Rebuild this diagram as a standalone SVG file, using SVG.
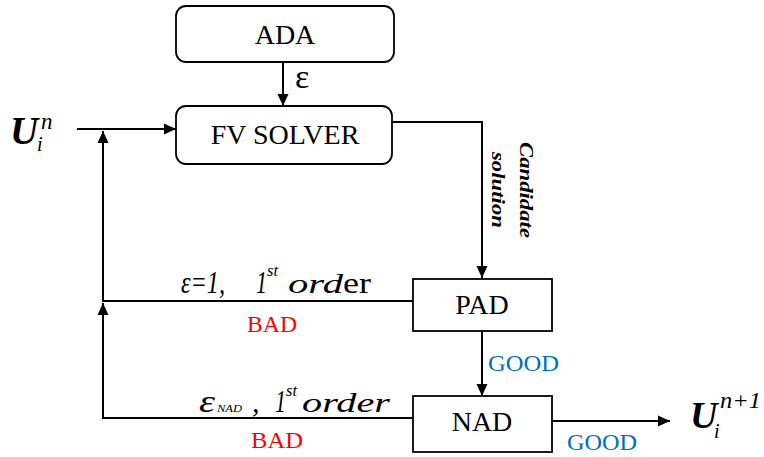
<svg xmlns="http://www.w3.org/2000/svg" width="764" height="457" viewBox="0 0 764 457">
<style>
.box{fill:#fff;stroke:#000;stroke-width:1.8}
.lbl{font-family:"Liberation Serif","Times New Roman",serif;font-size:28px;fill:#000;text-anchor:middle}
.it{font-family:"Liberation Serif","Times New Roman",serif;font-style:italic;fill:#000}
.rm{font-family:"Liberation Serif","Times New Roman",serif;fill:#000}
.bi{font-family:"Liberation Serif","Times New Roman",serif;font-style:italic;font-weight:bold;fill:#000}
.bad{font-family:"Liberation Serif","Times New Roman",serif;font-size:23px;fill:#ff0000}
.good{font-family:"Liberation Serif","Times New Roman",serif;font-size:23px;fill:#0070c0}
.conn{fill:none;stroke:#000;stroke-width:2;marker-end:url(#arr)}
</style>
<defs>
<marker id="arr" markerUnits="userSpaceOnUse" markerWidth="12" markerHeight="12" refX="12" refY="6" orient="auto">
<path d="M0,0.5 L12,6 L0,11.5 z" fill="#000"/>
</marker>
</defs>
<g id="connectors">
<path class="conn" d="M283,62 V106"/>
<path class="conn" d="M77,129 H176"/>
<path class="conn" d="M413,301 H103 V131"/>
<path class="conn" d="M413,418 H103 V303"/>
<path class="conn" d="M392,122 H482 V278"/>
<path class="conn" d="M482,331 V396"/>
<path class="conn" d="M552,421 H670"/>
</g>
<g id="ada">
<rect class="box" x="176" y="6" width="218" height="56" rx="10"/>
<text class="lbl" x="285" y="44">ADA</text>
</g>
<g id="fv-solver">
<rect class="box" x="176" y="106" width="216" height="58" rx="10"/>
<text class="lbl" x="285" y="144">FV SOLVER</text>
</g>
<g id="pad">
<rect class="box" x="413" y="279" width="139" height="52"/>
<text class="lbl" x="482" y="314">PAD</text>
</g>
<g id="nad">
<rect class="box" x="413" y="396" width="139" height="56"/>
<text class="lbl" x="482" y="431">NAD</text>
</g>
<g id="labels">
<text class="rm" x="295" y="88" font-size="34">ε</text>
<text class="bi" x="10" y="144" font-size="39">U</text>
<text class="it" x="37" y="151" font-size="20">i</text>
<text class="it" x="41" y="129" font-size="23">n</text>
<text class="bi" x="690" y="428" font-size="38">U</text>
<text class="it" x="714" y="438" font-size="20">i</text>
<text class="it" x="720" y="408" font-size="23" textLength="41" lengthAdjust="spacingAndGlyphs">n+1</text>
<text class="bi" transform="translate(520,190) rotate(90)" font-size="19" text-anchor="middle" textLength="96" lengthAdjust="spacingAndGlyphs">Candidate</text>
<text class="bi" transform="translate(492,190) rotate(90)" font-size="19" text-anchor="middle" textLength="76" lengthAdjust="spacingAndGlyphs">solution</text>
<text class="it" x="181" y="293" font-size="32" textLength="44" lengthAdjust="spacingAndGlyphs">ε=1,</text>
<text class="it" x="256" y="293" font-size="32" textLength="11" lengthAdjust="spacingAndGlyphs">1</text>
<text class="it" x="267" y="276" font-size="17" textLength="11" lengthAdjust="spacingAndGlyphs">st</text>
<text class="it" x="288" y="293" font-size="28" textLength="55" lengthAdjust="spacingAndGlyphs">ord</text>
<text class="rm" x="343" y="293" font-size="29" textLength="28" lengthAdjust="spacingAndGlyphs">er</text>
<text class="bad" x="247" y="332" textLength="50" lengthAdjust="spacingAndGlyphs">BAD</text>
<text class="it" x="199" y="412" font-size="32" textLength="16" lengthAdjust="spacingAndGlyphs">ε</text>
<text class="it" x="217" y="412" font-size="11" textLength="25" lengthAdjust="spacingAndGlyphs">NAD</text>
<text class="it" x="252" y="412" font-size="30">,</text>
<text class="it" x="275" y="412" font-size="32" textLength="11" lengthAdjust="spacingAndGlyphs">1</text>
<text class="it" x="286" y="396" font-size="17" textLength="11" lengthAdjust="spacingAndGlyphs">st</text>
<text class="it" x="302" y="412" font-size="28" textLength="88" lengthAdjust="spacingAndGlyphs">order</text>
<text class="bad" x="251" y="448" textLength="52" lengthAdjust="spacingAndGlyphs">BAD</text>
<text class="good" x="488" y="371" textLength="71" lengthAdjust="spacingAndGlyphs">GOOD</text>
<text class="good" x="567" y="450" textLength="70" lengthAdjust="spacingAndGlyphs">GOOD</text>
</g>
</svg>
